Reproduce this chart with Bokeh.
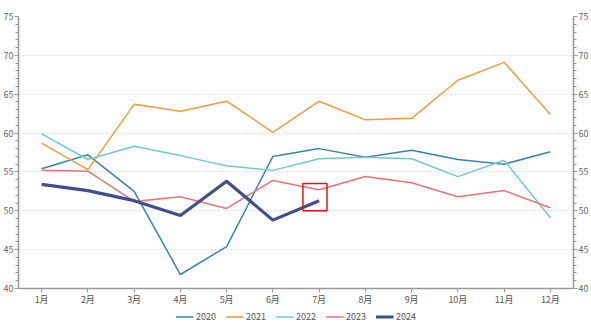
from bokeh.plotting import figure
from bokeh.layouts import column
from bokeh.models import LinearAxis, Legend, LegendItem, FixedTicker, BoxAnnotation, Range1d
from bokeh.embed import file_html
from bokeh.resources import INLINE

months = ["1月", "2月", "3月", "4月", "5月", "6月", "7月", "8月", "9月", "10月", "11月", "12月"]
y2020 = [55.4, 57.2, 52.5, 41.8, 45.4, 57.0, 58.0, 56.9, 57.8, 56.6, 56.0, 57.6]
y2021 = [58.7, 55.3, 63.7, 62.8, 64.1, 60.1, 64.1, 61.7, 61.9, 66.8, 69.1, 62.4]
y2022 = [59.9, 56.6, 58.3, 57.1, 55.8, 55.2, 56.7, 56.9, 56.7, 54.4, 56.5, 49.1]
y2023 = [55.2, 55.1, 51.2, 51.8, 50.3, 53.9, 52.7, 54.4, 53.6, 51.8, 52.6, 50.4]
y2024 = [53.4, 52.6, 51.3, 49.4, 53.8, 48.8, 51.3]
series_names = ["2020", "2021", "2022", "2023", "2024"]
series = [y2020, y2021, y2022, y2023, y2024]
colors = ["#3b84b0", "#f7993e", "#72c9c9", "#ec7275", "#3f4f8e"]
widths = [1.5, 1.5, 1.5, 1.5, 3.2]
yticks = [40, 45, 50, 55, 60, 65, 70, 75]
highlight_month = 7
highlight_low, highlight_high = 50.0, 53.5

FONT = "Noto Sans CJK SC"
xs = list(range(1, 13))

p = figure(width=591, height=309, output_backend="svg", toolbar_location=None,
           x_range=Range1d(0.5, 12.5), y_range=Range1d(40, 75),
           min_border_left=18, min_border_right=18, min_border_top=16, min_border_bottom=21)
p.outline_line_color = None
p.background_fill_color = "white"

for name, ys, c, w in zip(series_names, series, colors, widths):
    p.line(xs[:len(ys)], ys, line_color=c, line_width=w)

p.add_layout(BoxAnnotation(left=highlight_month - 0.35, right=highlight_month + 0.17,
                           bottom=highlight_low, top=highlight_high,
                           fill_color=None, fill_alpha=0, line_color="#ee1111",
                           line_alpha=1.0, line_width=1.5))

def style_y(ax):
    ax.ticker = FixedTicker(ticks=yticks, minor_ticks=list(range(40, 76)))
    ax.axis_line_color = "#999999"
    ax.axis_line_width = 1.5
    ax.major_tick_line_color = "#999999"
    ax.minor_tick_line_color = "#999999"
    ax.major_tick_out = 4
    ax.major_tick_in = 0
    ax.minor_tick_out = 3
    ax.minor_tick_in = 0
    ax.major_label_text_font = FONT
    ax.major_label_text_font_size = "9px"
    ax.major_label_text_color = "#666666"
    ax.major_label_standoff = 1

style_y(p.yaxis[0])
ra = LinearAxis()
style_y(ra)
p.add_layout(ra, "right")

xa = p.xaxis[0]
xa.ticker = FixedTicker(ticks=xs)
xa.major_label_overrides = {i: m for i, m in zip(xs, months)}
xa.axis_line_color = "#999999"
xa.axis_line_width = 1.5
xa.major_tick_line_color = "#999999"
xa.major_tick_out = 4
xa.major_tick_in = 0
xa.minor_tick_line_color = None
xa.major_label_text_font = FONT
xa.major_label_text_font_size = "9px"
xa.major_label_text_color = "#555555"
xa.major_label_standoff = 0

p.xgrid.grid_line_color = None
p.ygrid.ticker = FixedTicker(ticks=yticks)
p.ygrid.grid_line_color = "#dddddd"
p.ygrid.grid_line_dash = "2 2"

# legend strip
lg = figure(width=591, height=14, output_backend="svg", toolbar_location=None,
            x_range=Range1d(0, 1), y_range=Range1d(0, 1),
            min_border=0)
lg.axis.visible = False
lg.grid.visible = False
lg.outline_line_color = None
items = []
for name, c, w in zip(series_names, colors, widths):
    r = lg.line([-10, -9], [-10, -10], line_color=c, line_width=w)
    items.append(LegendItem(label=name, renderers=[r]))
legend = Legend(items=items, orientation="horizontal", location="center",
                label_text_font=FONT, label_text_font_size="9px", label_text_color="#555555",
                glyph_width=18, glyph_height=8, label_standoff=3, spacing=9,
                border_line_color=None, background_fill_alpha=0, padding=0, margin=0,
                label_height=8)
lg.add_layout(legend)

layout = column(p, lg, spacing=0)
open("out.html", "w").write(file_html(layout, INLINE))
